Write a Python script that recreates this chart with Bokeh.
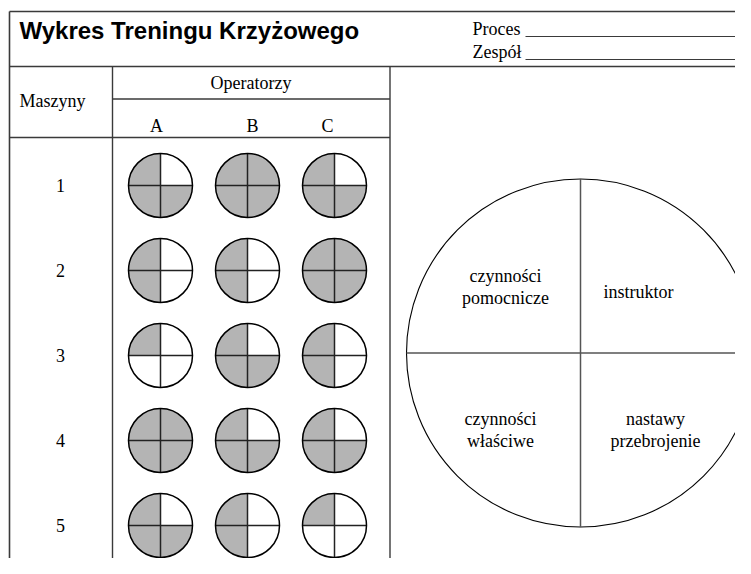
import math
from bokeh.plotting import figure
from bokeh.models import Range1d
from bokeh.core.properties import value
from bokeh.embed import file_html
from bokeh.resources import INLINE

# ---------------- data ----------------
title = "Wykres Treningu Krzyżowego"
field_labels = ["Proces", "Zespół"]
machines = ["1", "2", "3", "4", "5"]
operators = ["A", "B", "C"]
# number of filled quarters (training level 0-4) per machine, per operator
level_A = [3, 2, 1, 4, 3]
level_B = [4, 2, 3, 3, 2]
level_C = [3, 4, 2, 3, 1]
levels = {"A": level_A, "B": level_B, "C": level_C}
# quarter fill order: UL, LL, LR, UR
fill_order = ["UL", "LL", "LR", "UR"]
quarter_labels = {
    "UL": ["czynności", "pomocnicze"],
    "UR": ["instruktor"],
    "LL": ["czynności", "właściwe"],
    "LR": ["nastawy", "przebrojenie"],
}

# ---------------- layout (pixels) ----------------
W, H = 735, 558
def Y(y):
    return H - y

SERIF = value("Liberation Serif")
SANS = value("Liberation Sans")
LINE = "#3a3a3a"
FS = "18px"

p = figure(width=W, height=H, x_range=Range1d(0, W), y_range=Range1d(0, H),
           output_backend="svg", toolbar_location=None,
           x_axis_type=None, y_axis_type=None, min_border=0)
p.grid.visible = False
p.outline_line_color = None
p.background_fill_color = "white"
p.border_fill_color = "white"

# frame lines
x0s = [9, 9, 9, 112, 389.5, 112, 9, 525, 525]
y0s = [11, 66, 11, 66, 66, 98.5, 137, 36, 59]
x1s = [760, 760, 9, 112, 389.5, 389.5, 389.5, 747, 747]
y1s = [11, 66, 600, 600, 600, 98.5, 137, 36, 59]
widths = [1.6, 1.6, 1.6, 1.4, 1.4, 1.4, 1.6, 1.1, 1.1]
p.segment(x0=x0s, y0=[Y(v) for v in y0s], x1=x1s, y1=[Y(v) for v in y1s],
          line_color=LINE, line_width=widths)

# header texts
p.text(x=[19], y=[Y(30)], text=[title], text_font=SANS, text_font_style="bold",
       text_font_size="24px", text_align="left", text_baseline="middle", text_color="black")
p.text(x=[472, 472], y=[Y(28.5), Y(51)], text=field_labels, text_font=SERIF,
       text_font_size=FS, text_align="left", text_baseline="middle", text_color="black")

p.text(x=[52], y=[Y(100.5)], text=["Maszyny"], text_font=SERIF, text_font_size=FS,
       text_align="center", text_baseline="middle", text_color="black")
p.text(x=[250.5], y=[Y(82.5)], text=["Operatorzy"], text_font=SERIF, text_font_size=FS,
       text_align="center", text_baseline="middle", text_color="black")

col_label_x = [156, 252, 327]
p.text(x=col_label_x, y=[Y(125)] * 3, text=operators, text_font=SERIF, text_font_size=FS,
       text_align="center", text_baseline="middle", text_color="black")

# matrix of small circles
col_x = [160 + 87 * j for j in range(len(operators))]
row_y = [185 + 85 * i for i in range(len(machines))]
R = 32

p.text(x=[60] * len(machines), y=[Y(v) for v in row_y], text=machines, text_font=SERIF,
       text_font_size=FS, text_align="center", text_baseline="middle", text_color="black")

angles = {"UR": (0, math.pi / 2), "UL": (math.pi / 2, math.pi),
          "LL": (math.pi, 1.5 * math.pi), "LR": (1.5 * math.pi, 2 * math.pi)}
wx, wy, ws, we = [], [], [], []
cx, cy = [], []
for j, op in enumerate(operators):
    for i, m in enumerate(machines):
        x, y = col_x[j], Y(row_y[i])
        cx.append(x)
        cy.append(y)
        for q in fill_order[:levels[op][i]]:
            wx.append(x)
            wy.append(y)
            ws.append(angles[q][0])
            we.append(angles[q][1])

p.wedge(x=wx, y=wy, radius=R, start_angle=ws, end_angle=we,
        fill_color="#b4b4b4", line_color=None)
p.segment(x0=[x - R for x in cx], y0=cy, x1=[x + R for x in cx], y1=cy,
          line_color="#222222", line_width=1.5)
p.segment(x0=cx, y0=[y - R for y in cy], x1=cx, y1=[y + R for y in cy],
          line_color="#222222", line_width=1.5)
p.circle(x=cx, y=cy, radius=R, fill_color=None, line_color="black", line_width=1.5)

# big legend circle
BX, BY, BR = 580, 352.5, 174
p.circle(x=[BX], y=[Y(BY)], radius=BR, fill_color=None, line_color="black", line_width=1.1)
p.segment(x0=[BX, BX - BR], y0=[Y(BY - BR), Y(BY)], x1=[BX, BX + BR], y1=[Y(BY + BR), Y(BY)],
          line_color="#555555", line_width=1.5)

label_pos = {"UL": (505, 275), "UR": (638, 291), "LL": (500, 418), "LR": (655, 418)}
tx, ty, tt = [], [], []
for q, lines in quarter_labels.items():
    x, y = label_pos[q]
    for k, s in enumerate(lines):
        tx.append(x)
        ty.append(Y(y + 22 * k))
        tt.append(s)
p.text(x=tx, y=ty, text=tt, text_font=SERIF, text_font_size=FS,
       text_align="center", text_baseline="middle", text_color="black")

open("out.html", "w").write(file_html(p, INLINE))
